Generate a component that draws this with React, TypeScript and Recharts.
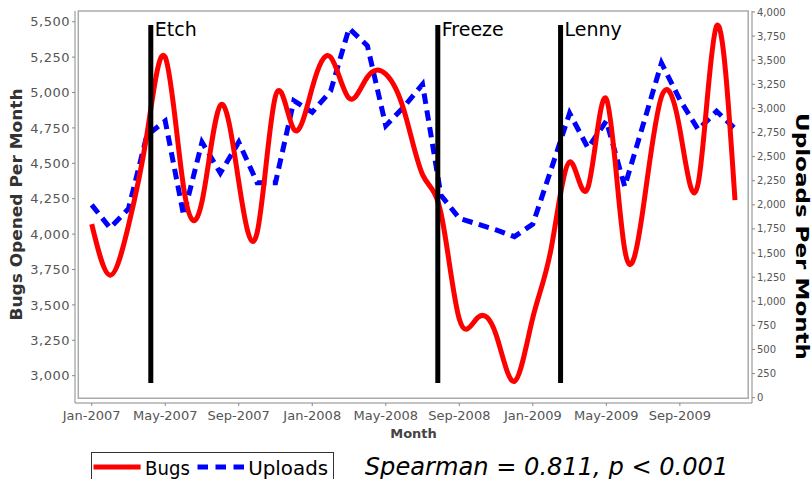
import React from 'react';
import {
  ComposedChart,
  Line,
  XAxis,
  YAxis,
  ReferenceLine,
  ReferenceArea,
  Label,
  Legend,
} from 'recharts';

const months = [
  'Jan-2007', 'Feb-2007', 'Mar-2007', 'Apr-2007', 'May-2007', 'Jun-2007',
  'Jul-2007', 'Aug-2007', 'Sep-2007', 'Oct-2007', 'Nov-2007', 'Dec-2007',
  'Jan-2008', 'Feb-2008', 'Mar-2008', 'Apr-2008', 'May-2008', 'Jun-2008',
  'Jul-2008', 'Aug-2008', 'Sep-2008', 'Oct-2008', 'Nov-2008', 'Dec-2008',
  'Jan-2009', 'Feb-2009', 'Mar-2009', 'Apr-2009', 'May-2009', 'Jun-2009',
  'Jul-2009', 'Aug-2009', 'Sep-2009', 'Oct-2009', 'Nov-2009', 'Dec-2009',
];

const bugs = [
  4070, 3710, 4060, 4700, 5250, 4330, 4230, 4910, 4370, 4010, 4975, 4740,
  5035, 5250, 4960, 5110, 5130, 4870, 4420, 4150, 3400, 3410, 3290, 2960,
  3410, 3900, 4510, 4330, 4955, 3890, 4180, 4970, 4740, 4360, 5470, 4240,
];

const uploads = [
  2000, 1760, 1960, 2720, 2870, 1890, 2650, 2330, 2650, 2230, 2230, 3080,
  2960, 3180, 3830, 3650, 2820, 3020, 3250, 2100, 1860, 1800, 1740, 1670,
  1800, 2370, 2950, 2590, 2870, 2190, 2830, 3470, 3090, 2780, 2970, 2790,
];

const xTicks = [0, 4, 8, 12, 16, 20, 24, 28, 32];
const leftTicks = [3000, 3250, 3500, 3750, 4000, 4250, 4500, 4750, 5000, 5250, 5500];
const rightTicks = [0, 250, 500, 750, 1000, 1250, 1500, 1750, 2000, 2250, 2500, 2750, 3000, 3250, 3500, 3750, 4000];

const releases = [
  { name: 'Etch', at: 3.215 },
  { name: 'Freeze', at: 18.83 },
  { name: 'Lenny', at: 25.51 },
];
const releaseSpan = [2948, 5477];

const data = months.map((m, i) => ({ idx: i, month: m, bugs: bugs[i], uploads: uploads[i] }));

const FONT = 'DejaVu Sans';
const fmt = (v: number) => v.toLocaleString('en-US');

const renderLegend = (props: any) => {
  const order = ['bugs', 'uploads'];
  const items = [...(props.payload || [])].sort(
    (a: any, b: any) => order.indexOf(a.dataKey) - order.indexOf(b.dataKey)
  );
  const bug = items[0];
  const up = items[1];
  return (
    <svg width={700} height={40} style={{ display: 'block', overflow: 'visible' }}>
      <rect x={0.5} y={0.5} width={242} height={45} fill="none" stroke="#333" strokeWidth={1} />
      <line x1={2.5} x2={49.6} y1={15} y2={15} stroke={bug?.color} strokeWidth={5} />
      <text x={54.1} y={23} fontFamily={FONT} fontSize={20} textLength={44.8} lengthAdjust="spacingAndGlyphs" fill="#000">
        {bug?.value}
      </text>
      <line x1={106.5} x2={153} y1={15} y2={15} stroke={up?.color} strokeWidth={5} strokeDasharray="10.5 7.5" />
      <text x={157.2} y={23} fontFamily={FONT} fontSize={20} textLength={79.9} lengthAdjust="spacingAndGlyphs" fill="#000">
        {up?.value}
      </text>
      <text x={273.8} y={23} fontFamily={FONT} fontSize={24} fontStyle="italic" textLength={363.5} lengthAdjust="spacingAndGlyphs" fill="#000">
        Spearman = 0.811, p &lt; 0.001
      </text>
    </svg>
  );
};

export default function App() {
  return (
    <div style={{ position: 'absolute', left: 0, top: 0, width: 812, height: 479, background: '#fff' }}>
      <ComposedChart
        width={812}
        height={479}
        data={data}
        margin={{ top: 11, right: 0, bottom: 0, left: 0 }}
      >
        <XAxis
          dataKey="idx"
          type="number"
          domain={[-0.909, 35.925]}
          allowDataOverflow
          ticks={xTicks}
          interval={0}
          tickFormatter={(v: number) => months[v]}
          height={76}
          stroke="#888"
          tickSize={3}
          tickMargin={5}
          tick={{ fill: '#555', fontSize: 13, fontFamily: FONT }}
        >
          <Label
            content={(p: any) => {
              const vb = p.viewBox || { x: 75, y: 403, width: 677 };
              return (
                <text x={vb.x + vb.width / 2} y={vb.y + 35.3} textAnchor="middle" fontFamily={FONT} fontWeight="bold" fontSize={13} fill="#444">
                  Month
                </text>
              );
            }}
          />
        </XAxis>
        <YAxis
          yAxisId="left"
          orientation="left"
          width={75}
          domain={[2807, 5576]}
          allowDataOverflow
          ticks={leftTicks}
          interval={0}
          tickFormatter={fmt}
          stroke="#888"
          tickSize={3}
          tickMargin={2}
          tick={{ fill: '#555', fontSize: 13, fontFamily: FONT, letterSpacing: 0.5 }}
        >
          <Label
            content={(p: any) => {
              const vb = p.viewBox || { x: 0, y: 11, width: 75, height: 392 };
              const cx = vb.x + 16;
              const cy = vb.y + vb.height / 2 - 2.5;
              return (
                <text transform={`translate(${cx},${cy}) rotate(-90)`} textAnchor="middle" dominantBaseline="central" fontFamily={FONT} fontWeight="bold" fontSize={16} textLength={232} lengthAdjust="spacingAndGlyphs" fill="#333">
                  Bugs Opened Per Month
                </text>
              );
            }}
          />
        </YAxis>
        <YAxis
          yAxisId="right"
          orientation="right"
          width={60}
          domain={[-55, 4010]}
          allowDataOverflow
          ticks={rightTicks}
          interval={0}
          tickFormatter={fmt}
          stroke="#888"
          tickSize={3}
          tickMargin={2}
          tick={{ fill: '#555', fontSize: 10, fontFamily: FONT }}
        >
          <Label
            content={(p: any) => {
              const vb = p.viewBox || { x: 752, y: 11, width: 60, height: 392 };
              const cx = vb.x + 50.5;
              const cy = vb.y + 225.5;
              return (
                <text transform={`translate(${cx},${cy}) rotate(90)`} textAnchor="middle" dominantBaseline="central" fontFamily={FONT} fontWeight="bold" fontSize={18} textLength={247} lengthAdjust="spacingAndGlyphs" fill="#000">
                  Uploads Per Month
                </text>
              );
            }}
          />
        </YAxis>
        <ReferenceArea
          yAxisId="left"
          x1={-0.73}
          x2={35.72}
          y1={2840}
          y2={5576}
          fill="none"
          stroke="#aaa"
          strokeWidth={1.5}
        />
        <Line
          yAxisId="right"
          dataKey="uploads"
          name="Uploads"
          type="linear"
          stroke="#0000ff"
          strokeWidth={5}
          strokeDasharray="10.5 6.5"
          dot={false}
          activeDot={false}
          isAnimationActive={false}
        />
        <Line
          yAxisId="left"
          dataKey="bugs"
          name="Bugs"
          type="natural"
          stroke="#ff0000"
          strokeWidth={5}
          dot={false}
          activeDot={false}
          isAnimationActive={false}
        />
        {releases.map((r) => (
          <ReferenceLine
            key={r.name}
            yAxisId="left"
            segment={[{ x: r.at, y: releaseSpan[0] }, { x: r.at, y: releaseSpan[1] }]}
            stroke="#000"
            strokeWidth={5}
            label={(p: any) => {
              const vb = p.viewBox || { x: 0, y: 25 };
              return (
                <text x={vb.x + 4} y={vb.y + 10.5} fontFamily={FONT} fontSize={19} fill="#000">
                  {r.name}
                </text>
              );
            }}
          />
        ))}
        <Legend
          content={renderLegend}
          wrapperStyle={{ position: 'absolute', left: 91, top: 452, width: 700, height: 0, overflow: 'visible' }}
        />
      </ComposedChart>
    </div>
  );
}
